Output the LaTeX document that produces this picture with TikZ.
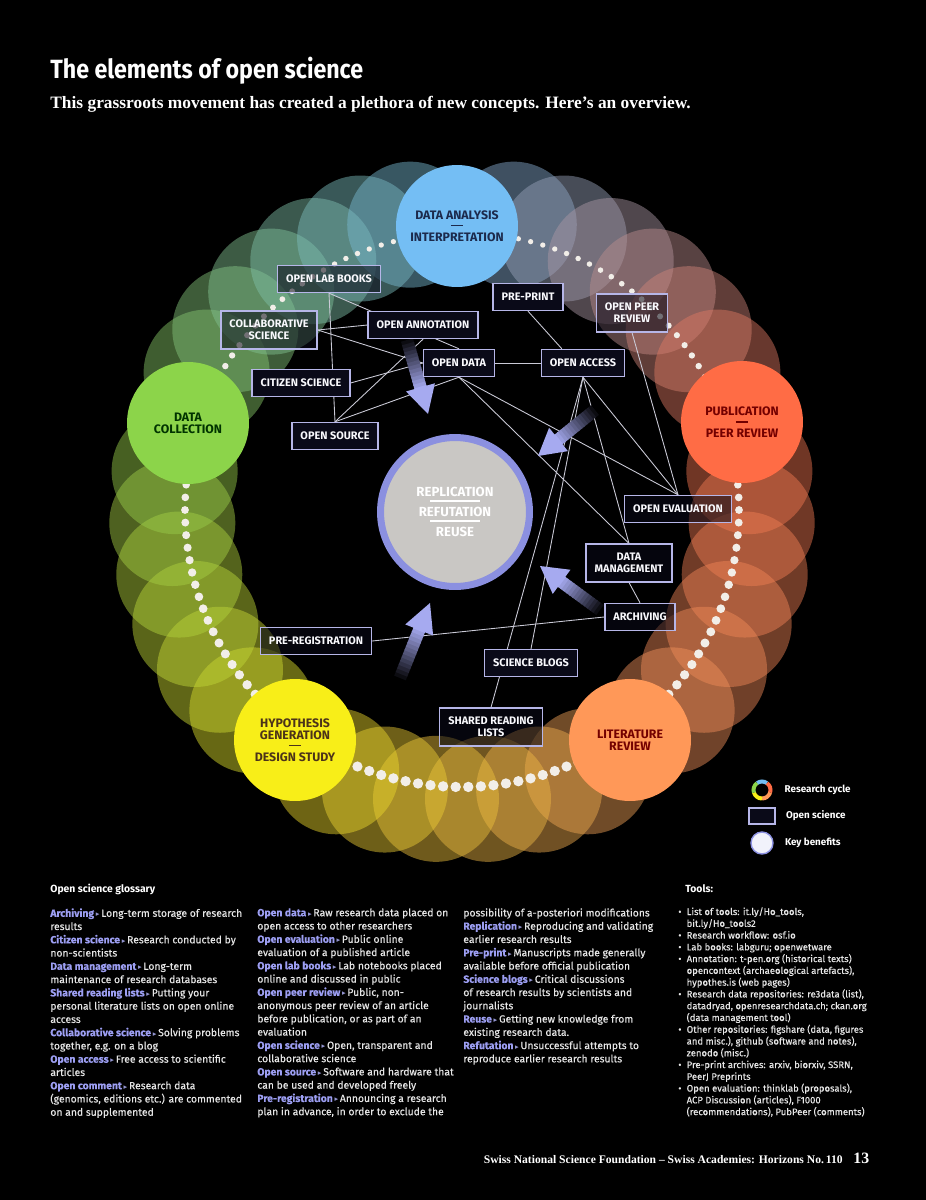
\documentclass[tikz,border=0pt]{standalone}
\usepackage{fontspec}
\usepackage{graphicx}
\setmainfont{Fira Sans}
\newfontfamily\bodyf[FakeBold=0.35]{Fira Sans}
\newfontfamily\serifbf{Liberation Serif}
\newfontfamily\symf{DejaVu Sans}
\newfontfamily\titlef[FakeStretch=0.88]{Fira Sans}
\usetikzlibrary{positioning}
\usetikzlibrary{calc}
\definecolor{dac}{HTML}{74BEF4}
\definecolor{pubc}{HTML}{FF6C45}
\definecolor{litc}{HTML}{FF9858}
\definecolor{hypc}{HTML}{F8EE18}
\definecolor{dcc}{HTML}{8CD44A}
\definecolor{repc}{HTML}{C9C7C4}
\definecolor{ringc}{HTML}{8B90E0}
\definecolor{boxc}{HTML}{B6B6E8}
\definecolor{boxfill}{HTML}{0A0A18}
\definecolor{wirec}{HTML}{CACAD6}
\definecolor{arrowc}{HTML}{A6AAF0}
\definecolor{termc}{HTML}{9C9EF2}
\definecolor{bodyc}{HTML}{E6E6E6}
\definecolor{dotc}{HTML}{F2EEE8}
\definecolor{navyt}{HTML}{1C2A4C}
\pgfdeclarelayer{ring}
\pgfdeclarelayer{wires}
\pgfsetlayers{ring,wires,main}
\tikzset{
    stage/.style = {circle, minimum size=2.44cm, inner sep=0pt, align=center, font=\bfseries\fontsize{7}{6.3}\selectfont},
    osbox/.style = {draw=boxc, line width=0.8pt, fill=boxfill, text=white!92!boxc, align=center, inner xsep=0.17cm, inner ysep=0.18cm, minimum height=0.54cm, font=\bfseries\fontsize{6.2}{6.8}\selectfont},
    seethru/.style = {fill opacity=0.55, text opacity=1},
    wire/.style = {draw=wirec, line width=0.5pt},
    gloss/.style = {anchor=north west, inner sep=0pt, align=left, text=bodyc, font=\bodyf\fontsize{5.9}{7.55}\selectfont},
    toollist/.style = {anchor=north west, inner sep=0pt, align=left, text=bodyc, font=\bodyf\fontsize{5.4}{6.7}\selectfont},
    head/.style = {anchor=base west, inner sep=0pt, text=white, font=\bfseries\fontsize{5.9}{7}\selectfont},
    legtext/.style = {inner sep=0pt, text=white, font=\bfseries\fontsize{5.6}{6}\selectfont}
}
\newcommand{\stagedash}{\rule[2.2pt]{7pt}{0.7pt}}
\newcommand{\seprule}{\rule[2.6pt]{28pt}{1pt}}
\newcommand{\term}[2]{{\color{termc}\bfseries #1}\,{\color{termc!70!gray}\symf\scalebox{0.7}{▸}}\,#2}
\newcommand{\tool}[1]{\textbullet\hspace{3pt}#1}
\newcommand{\cont}[1]{\hphantom{\textbullet\hspace{3pt}}#1}
% fading fat arrow: #1 tail, #2 tip
\newcommand{\fatarrow}[2]{%
  \foreach \k in {0,...,13}{%
    \pgfmathsetmacro{\fa}{\k/14*0.68}%
    \pgfmathsetmacro{\fb}{(\k+1.3)/14*0.68}%
    \pgfmathsetmacro{\fc}{100*(\k+1)/14}%
    \colorlet{fadec}{arrowc!\fc!black}%
    \draw[fadec, line width=0.25cm] ($(#1)!\fa!(#2)$) -- ($(#1)!\fb!(#2)$);%
  }%
  \coordinate (hb) at ($(#1)!0.64!(#2)$);%
  \fill[arrowc] ($(hb)!0.3cm!90:(#2)$) -- (#2) -- ($(hb)!0.3cm!-90:(#2)$) -- cycle;%
}

\begin{document}
\begin{tikzpicture}[x=0.02cm, y=-0.02cm]
%
\begin{pgfonlayer}{ring}
\fill[black] (0,0) rectangle (926,1200);
\begin{scope}[shift={(462,510)}, yscale=-1]
\foreach \a/\b/\ca/\cb in {162/90/dcc/dac, 90/18/dac/pubc, 18/-54/pubc/litc, -54/-126/litc/hypc, -126/-198/hypc/dcc}{
  \foreach \k in {1,...,6}{
    \pgfmathsetmacro{\ang}{\a+(\b-\a)*\k/7}
    \pgfmathsetmacro{\pc}{100*\k/7}
    \colorlet{halo}{\cb!\pc!\ca}
    \fill[halo!88!gray, fill opacity=0.47] (\ang:290) circle[radius=63];
  }
}
\foreach \i in {0,...,137}{
  \pgfmathsetmacro{\ang}{\i/138*360}
  \pgfmathsetmacro{\rr}{3.9-1.3*sin(\ang)}
  \fill[dotc] (\ang:277) circle[radius=\rr];
}
\end{scope}
%
\node[stage, fill=dac, text=navyt] (da) at (457,226) {DATA ANALYSIS\\\stagedash\\INTERPRETATION};
\node[stage, fill=pubc, text=red!45!black] (pub) at (742,422) {PUBLICATION\\\stagedash\\PEER REVIEW};
\node[stage, fill=litc, text=red!45!black] (lit) at (630,740) {LITERATURE\\[0.6pt]REVIEW};
\node[stage, fill=hypc, text=brown!40!black] (hyp) at (295,740) {HYPOTHESIS\\[0.6pt]GENERATION\\\stagedash\\DESIGN STUDY};
\node[stage, fill=dcc, text=green!20!black] (dc) at (188,423) {DATA\\[0.6pt]COLLECTION};
\end{pgfonlayer}
%
\node[circle, fill=repc, draw=ringc, line width=0.14cm, minimum size=2.98cm, inner sep=0pt, align=center, text=white, font=\bfseries\fontsize{7.5}{5.8}\selectfont] (rep) at (455,512) {REPLICATION\\\seprule\\REFUTATION\\\seprule\\REUSE};
%
\node[osbox, seethru] (labbooks) at (329,279) {OPEN LAB BOOKS};
\node[osbox, seethru] (collab) at (269,330) {COLLABORATIVE\\SCIENCE};
\node[osbox] (oannot) at (423,325) {OPEN ANNOTATION};
\node[osbox] (odata) at (459,363) {OPEN DATA};
\node[osbox] (oaccess) at (583,363) {OPEN ACCESS};
\node[osbox] (preprint) at (528,297) {PRE-PRINT};
\node[osbox, seethru] (opeer) at (632,313) {OPEN PEER\\REVIEW};
\node[osbox] (citizen) at (301,383) {CITIZEN SCIENCE};
\node[osbox] (osource) at (335,436) {OPEN SOURCE};
\node[osbox, seethru] (oeval) at (678,509) {OPEN EVALUATION};
\node[osbox, seethru] (dman) at (629,563) {DATA\\MANAGEMENT};
\node[osbox, seethru] (archiv) at (640,617) {ARCHIVING};
\node[osbox, seethru] (prereg) at (316,641) {PRE-REGISTRATION};
\node[osbox] (sblogs) at (531,663) {SCIENCE BLOGS};
\node[osbox, seethru] (shared) at (491,727) {SHARED READING\\LISTS};
%
\begin{pgfonlayer}{wires}
\draw[wire] (labbooks.south) -- (osource.north);
\draw[wire] (labbooks.south) -- (odata.north);
\draw[wire] (collab.east) -- (oannot.west);
\draw[wire] (collab.east) -- (odata.west);
\draw[wire] (citizen.east) -- (odata.west);
\draw[wire] (oannot.south) -- (osource.north);
\draw[wire] (odata.south) -- (osource.north);
\draw[wire] (odata.east) -- (oaccess.west);
\draw[wire] (preprint.south) -- ($(oaccess.north)!0.5!(oaccess.north west)$);
\draw[wire] (odata.south) -- (dman.north);
\draw[wire] (odata.south) -- (oeval.north);
\draw[wire] (oaccess.south) -- (oeval.north);
\draw[wire] (oaccess.south) -- (dman.north);
\draw[wire] (oaccess.south) -- (sblogs.north);
\draw[wire] (oaccess.south) -- (shared.north);
\draw[wire] (opeer.south) -- (oeval.north);
\draw[wire] (dman.south) -- (archiv.north);
\draw[wire] (archiv.west) -- (prereg.east);
%
\coordinate (a1t) at (407,340);
\coordinate (a1h) at (428,414);
\coordinate (a2t) at (595,410);
\coordinate (a2h) at (538,456);
\coordinate (a3t) at (600,610);
\coordinate (a3h) at (540,566);
\coordinate (a4t) at (400,678);
\coordinate (a4h) at (430,603);
\fatarrow{a1t}{a1h}
\fatarrow{a2t}{a2h}
\fatarrow{a3t}{a3h}
\fatarrow{a4t}{a4h}
\end{pgfonlayer}
%
\node[anchor=base west, inner sep=0pt, text=white, font=\titlef\bfseries\fontsize{15}{18}\selectfont] (title) at (50,78) {The elements of open science};
\node[anchor=base west, inner sep=0pt, text=white, font=\serifbf\bfseries\fontsize{9.9}{11}\selectfont] (sub) at (50,108) {This grassroots movement has created a plethora of new concepts. Here’s an overview.};
%
\node[circle, minimum size=0.44cm, inner sep=0pt] (legring) at (762,790) {};
\begin{scope}[shift={(762,790)}, yscale=-1]
\foreach \s/\c in {90/dac, 18/pubc, -54/litc, -126/hypc, -198/dcc}
  \draw[\c, line width=0.08cm] (\s+36:8.5) arc[start angle=\s+36, end angle=\s-36, radius=8.5];
\end{scope}
\node[draw=boxc, line width=0.8pt, fill=boxfill, minimum width=0.52cm, minimum height=0.32cm, inner sep=0pt] (legbox) at (762,816) {};
\node[circle, draw=ringc, line width=0.8pt, fill=white!88!ringc, minimum size=0.44cm, inner sep=0pt] (legdot) at (762,843) {};
\node[legtext, right=0.22cm of legring] (legringt) {Research cycle};
\node[legtext, right=0.2cm of legbox] (legboxt) {Open science};
\node[legtext, right=0.22cm of legdot] (legdott) {Key benefits};
%
\node[head] (glosshead) at (50,892) {Open science glossary};
\node[head] (toolhead) at (685,892) {Tools:};
\node[gloss] (col1) at (50,908) {\term{Archiving}{Long-term storage of research}\\
results\\
\term{Citizen science}{Research conducted by}\\
non-scientists\\
\term{Data management}{Long-term}\\
maintenance of research databases\\
\term{Shared reading lists}{Putting your}\\
personal literature lists on open online\\
access\\
\term{Collaborative science}{Solving problems}\\
together, e.g. on a blog\\
\term{Open access}{Free access to scientific}\\
articles\\
\term{Open comment}{Research data}\\
(genomics, editions etc.) are commented\\
on and supplemented};
\node[gloss] (col2) at (257,908) {\term{Open data}{Raw research data placed on}\\
open access to other researchers\\
\term{Open evaluation}{Public online}\\
evaluation of a published article\\
\term{Open lab books}{Lab notebooks placed}\\
online and discussed in public\\
\term{Open peer review}{Public, non-}\\
anonymous peer review of an article\\
before publication, or as part of an\\
evaluation\\
\term{Open science}{Open, transparent and}\\
collaborative science\\
\term{Open source}{Software and hardware that}\\
can be used and developed freely\\
\term{Pre-registration}{Announcing a research}\\
plan in advance, in order to exclude the};
\node[gloss] (col3) at (463,908) {possibility of a-posteriori modifications\\
\term{Replication}{Reproducing and validating}\\
earlier research results\\
\term{Pre-print}{Manuscripts made generally}\\
available before official publication\\
\term{Science blogs}{Critical discussions}\\
of research results by scientists and\\
journalists\\
\term{Reuse}{Getting new knowledge from}\\
existing research data.\\
\term{Refutation}{Unsuccessful attempts to}\\
reproduce earlier research results};
\node[toollist] (tools) at (678,907) {\tool{List of tools: it.ly/Ho\_tools,}\\
\cont{bit.ly/Ho\_tools2}\\
\tool{Research workflow: osf.io}\\
\tool{Lab books: labguru; openwetware}\\
\tool{Annotation: t-pen.org (historical texts)}\\
\cont{opencontext (archaeological artefacts),}\\
\cont{hypothes.is (web pages)}\\
\tool{Research data repositories: re3data (list),}\\
\cont{datadryad, openresearchdata.ch; ckan.org}\\
\cont{(data management tool)}\\
\tool{Other repositories: figshare (data, figures}\\
\cont{and misc.), github (software and notes),}\\
\cont{zenodo (misc.)}\\
\tool{Pre-print archives: arxiv, biorxiv, SSRN,}\\
\cont{PeerJ Preprints}\\
\tool{Open evaluation: thinklab (proposals),}\\
\cont{ACP Discussion (articles), F1000}\\
\cont{(recommendations), PubPeer (comments)}};
%
\node[anchor=base east, inner sep=0pt, text=white, font=\serifbf\bfseries\fontsize{6.6}{8}\selectfont] (foot) at (843,1163) {Swiss National Science Foundation – Swiss Academies: Horizons No.\,110};
\node[anchor=base west, inner sep=0pt, text=white, font=\serifbf\bfseries\fontsize{9}{10}\selectfont] (page) at (853,1163) {13};
\end{tikzpicture}
\end{document}
